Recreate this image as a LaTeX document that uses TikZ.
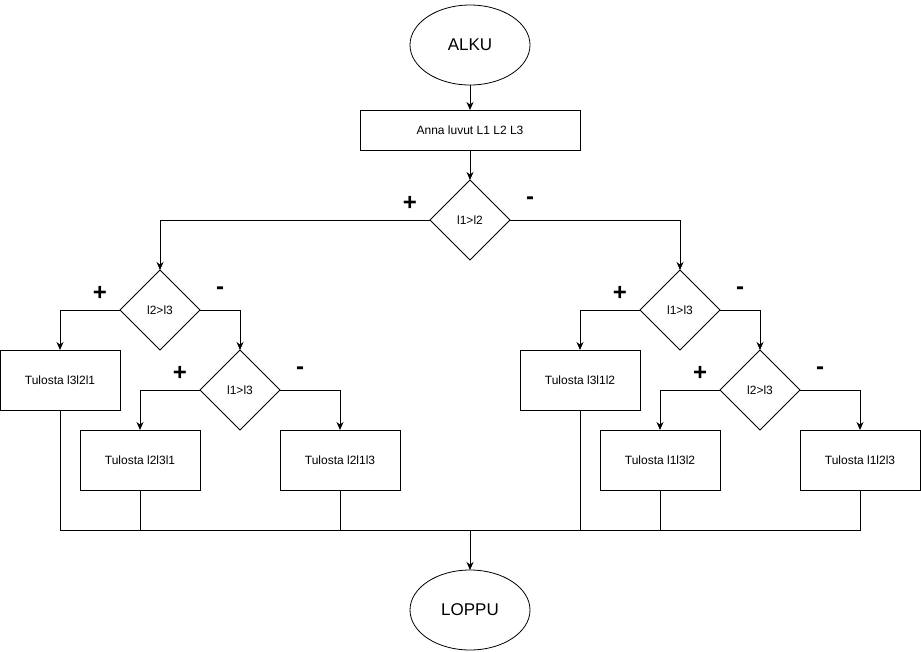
\documentclass[tikz,border=0pt]{standalone}
\usepackage{fontspec}
\setmainfont{Liberation Sans}
\usetikzlibrary{shapes.geometric,arrows.meta}

\begin{document}
\begin{tikzpicture}[x=1pt,y=-1pt,line width=0.8pt,>={Stealth[length=8pt,width=7pt]},
  box/.style={rectangle,draw,minimum width=120pt,minimum height=60pt,outer sep=0pt,font=\fontsize{12}{14}\selectfont},
  test/.style={diamond,draw,shape aspect=1,minimum width=80pt,minimum height=80pt,inner sep=0pt,outer sep=0pt,font=\fontsize{12}{14}\selectfont},
  term/.style={ellipse,draw,minimum width=120pt,minimum height=80pt,outer sep=0pt,font=\fontsize{17}{20}\selectfont},
  sign/.style={font=\fontsize{24}{28}\selectfont\bfseries}]
\useasboundingbox (0,0) rectangle (921,651);
\node[term] (alku) at (470,45) {ALKU};
\node[rectangle,draw,minimum width=220pt,minimum height=40pt,outer sep=0pt,font=\fontsize{12}{14}\selectfont] (anna) at (470,130) {Anna luvut L1 L2 L3};
\node[test] (t0) at (470,220) {l1>l2};
\node[test] (tl) at (160,310) {l2>l3};
\node[test] (tll) at (240,390) {l1>l3};
\node[test] (tr) at (680,310) {l1>l3};
\node[test] (trr) at (760,390) {l2>l3};
\node[box] (o1) at (60,380) {Tulosta l3l2l1};
\node[box] (o2) at (140,460) {Tulosta l2l3l1};
\node[box] (o3) at (340,460) {Tulosta l2l1l3};
\node[box] (o4) at (580,380) {Tulosta l3l1l2};
\node[box] (o5) at (660,460) {Tulosta l1l3l2};
\node[box] (o6) at (860,460) {Tulosta l1l2l3};
\node[term] (loppu) at (470,610) {LOPPU};
\node[sign] (p0) at (410,203) {+};
\node[sign] (m0) at (530,201) {-};
\node[sign] (p1) at (100,293) {+};
\node[sign] (m1) at (220,291) {-};
\node[sign] (p2) at (180,373) {+};
\node[sign] (m2) at (300,371) {-};
\node[sign] (p3) at (620,293) {+};
\node[sign] (m3) at (740,291) {-};
\node[sign] (p4) at (700,373) {+};
\node[sign] (m4) at (820,371) {-};
\coordinate (j) at (470,530);

\draw[->] (alku) -- (anna);
\draw[->] (anna) -- (t0);
\draw[->] (t0.west) -| (tl.north);
\draw[->] (t0.east) -| (tr.north);
\draw[->] (tl.west) -| (o1.north);
\draw[->] (tl.east) -| (tll.north);
\draw[->] (tll.west) -| (o2.north);
\draw[->] (tll.east) -| (o3.north);
\draw[->] (tr.west) -| (o4.north);
\draw[->] (tr.east) -| (trr.north);
\draw[->] (trr.west) -| (o5.north);
\draw[->] (trr.east) -| (o6.north);
% lopuksi kaikki yhteen
\draw (o1.south) |- (j);
\draw (o6.south) |- (j);
\draw (o2.south) -- (o2.south |- j);
\draw (o3.south) -- (o3.south |- j);
\draw (o4.south) -- (o4.south |- j);
\draw (o5.south) -- (o5.south |- j);
\draw[->] (j) -- (loppu);
\end{tikzpicture}
\end{document}
